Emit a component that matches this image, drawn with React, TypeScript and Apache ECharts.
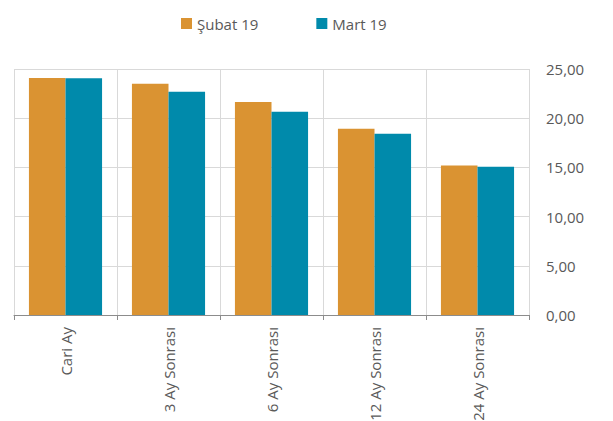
import React, { useEffect, useRef } from "react";
import * as echarts from "echarts";

const categories = ["Cari Ay", "3 Ay Sonrası", "6 Ay Sonrası", "12 Ay Sonrası", "24 Ay Sonrası"];
const seriesNames = ["Şubat 19", "Mart 19"];
const subatValues = [24.08, 23.5, 21.64, 18.92, 15.19];
const martValues = [24.07, 22.69, 20.65, 18.41, 15.06];
const colors = ["#DA9332", "#008AAB"];

export default function App() {
  const ref = useRef<HTMLDivElement>(null);
  useEffect(() => {
    if (!ref.current) return;
    const chart = echarts.init(ref.current, null, { renderer: "svg" });
    const font = "'Open Sans', 'Noto Sans', sans-serif";
    chart.setOption({
      animation: false,
      textStyle: { fontFamily: font },
      legend: {
        left: 176,
        top: 11,
        itemWidth: 11,
        itemHeight: 11,
        itemGap: 58,
        icon: "rect",
        textStyle: { fontSize: 15, color: "#595959", fontFamily: font },
        data: seriesNames,
      },
      grid: { left: 14, right: 84, top: 69, bottom: 106, containLabel: false, outerBoundsMode: "none" },
      xAxis: {
        type: "category",
        data: categories,
        axisLine: { show: true, lineStyle: { color: "#8c8c8c", width: 1 } },
        axisTick: { show: true, length: 5, lineStyle: { color: "#8c8c8c" } },
        splitLine: { show: true, lineStyle: { color: "#d9d9d9", width: 1 } },
        axisLabel: { rotate: 90, margin: 12, fontSize: 15, color: "#595959", fontFamily: font },
      },
      yAxis: {
        type: "value",
        position: "right",
        min: 0,
        max: 25,
        interval: 5,
        axisLine: { show: false },
        axisTick: { show: false },
        splitLine: { show: true, lineStyle: { color: "#d9d9d9", width: 1 } },
        axisLabel: {
          margin: 17,
          fontSize: 15,
          color: "#595959",
          fontFamily: font,
          formatter: (v: number) => v.toFixed(2).replace(".", ","),
        },
      },
      series: [
        {
          name: seriesNames[0],
          type: "bar",
          data: subatValues,
          itemStyle: { color: colors[0] },
          barGap: "0%",
          barCategoryGap: "29%",
        },
        {
          name: seriesNames[1],
          type: "bar",
          data: martValues,
          itemStyle: { color: colors[1] },
          barGap: "0%",
          barCategoryGap: "29%",
        },
      ],
    });
    return () => chart.dispose();
  }, []);
  return (
    <div
      ref={ref}
      style={{ position: "absolute", left: 0, top: 0, width: 613, height: 421, background: "#fff" }}
    />
  );
}
